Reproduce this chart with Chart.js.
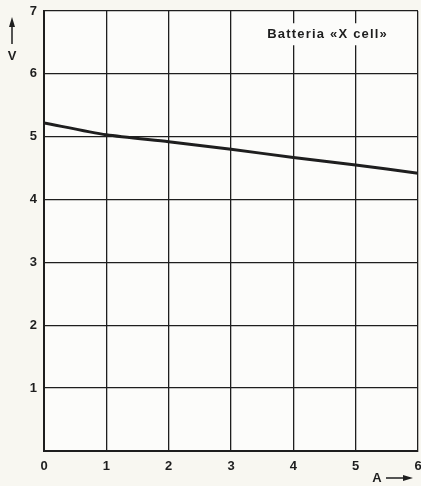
<!DOCTYPE html>
<html>
<head>
<meta charset="utf-8">
<script src="https://cdn.jsdelivr.net/npm/chart.js@4/dist/chart.umd.min.js"></script>
<style>
  html, body { margin: 0; padding: 0; background: #f8f7f1; }
  #wrap { width: 421px; height: 486px; }
</style>
</head>
<body>
<div id="wrap"><canvas id="chart"></canvas></div>
<script>
// current in A, voltage in V
const currentA = [0, 1, 2, 3, 4, 5, 6];
const voltageV = [5.22, 5.03, 4.92, 4.8, 4.67, 4.55, 4.42];
const xTicks = [0, 1, 2, 3, 4, 5, 6];
const yTicks = [1, 2, 3, 4, 5, 6, 7];
const legendText = 'Batteria «X cell»';

const ink = '#1e1e1e';
const paper = '#fcfcfa';

const extras = {
    id: 'extras',
    beforeDraw(chart) {
        const a = chart.chartArea;
        chart.ctx.save();
        chart.ctx.fillStyle = paper;
        chart.ctx.fillRect(a.left, a.top, a.right - a.left, a.bottom - a.top);
        chart.ctx.restore();
    },
    afterDraw(chart) {
        const ctx = chart.ctx;
        const x = chart.scales.x, y = chart.scales.y;
        ctx.save();
        // label, blanking the grid behind it
        const cx = x.getPixelForValue(4.55), cy = y.getPixelForValue(6.63);
        ctx.font = 'bold 13px "Liberation Sans", Arial, sans-serif';
        ctx.letterSpacing = '1.2px';
        const w = ctx.measureText(legendText).width;
        ctx.fillStyle = paper;
        ctx.fillRect(cx - w / 2 - 3, cy - 11, w + 6, 22);
        ctx.fillStyle = ink;
        ctx.textAlign = 'center';
        ctx.textBaseline = 'middle';
        ctx.fillText(legendText, cx, cy);
        ctx.letterSpacing = '0px';

        // axis names with arrows
        ctx.strokeStyle = ink;
        ctx.fillStyle = ink;
        ctx.lineWidth = 1.5;
        ctx.beginPath();
        ctx.moveTo(12, 44); ctx.lineTo(12, 24);
        ctx.stroke();
        ctx.beginPath();
        ctx.moveTo(12, 17); ctx.lineTo(9, 27); ctx.lineTo(15, 27); ctx.closePath();
        ctx.fill();
        ctx.font = 'bold 13px "Liberation Sans", Arial, sans-serif';
        ctx.fillText('V', 12, 56);

        ctx.fillText('A', 377, 478);
        ctx.beginPath();
        ctx.moveTo(386, 478); ctx.lineTo(404, 478);
        ctx.stroke();
        ctx.beginPath();
        ctx.moveTo(413, 478); ctx.lineTo(403, 475); ctx.lineTo(403, 481); ctx.closePath();
        ctx.fill();
        ctx.restore();
    }
};

new Chart(document.getElementById('chart'), {
    type: 'line',
    data: {
        datasets: [{
            data: currentA.map((a, i) => ({ x: a, y: voltageV[i] })),
            borderColor: ink,
            borderWidth: 3,
            pointRadius: 0,
            tension: 0.25,
            fill: false
        }]
    },
    options: {
        responsive: true,
        maintainAspectRatio: false,
        animation: false,
        layout: { padding: { left: 0, right: 3, top: 11, bottom: 0 } },
        plugins: { legend: { display: false }, tooltip: { enabled: false } },
        scales: {
            x: {
                type: 'linear',
                min: 0, max: 6,
                afterBuildTicks: s => { s.ticks = xTicks.map(v => ({ value: v })); },
                afterFit: s => { s.height = 35; s.paddingLeft = 0; s.paddingRight = 0; },
                grid: { color: ink, lineWidth: 1.3, drawTicks: false },
                border: { color: ink, width: 2 },
                ticks: {
                    color: ink, padding: 8,
                    font: { family: '"Liberation Sans", Arial, sans-serif', size: 13, weight: 'bold' }
                }
            },
            y: {
                min: 0, max: 7,
                afterBuildTicks: s => { s.ticks = [0].concat(yTicks).map(v => ({ value: v })); },
                afterFit: s => { s.width = 44; s.paddingTop = 0; s.paddingBottom = 0; },
                grid: { color: ink, lineWidth: 1.3, drawTicks: false },
                border: { color: ink, width: 2 },
                ticks: {
                    color: ink, padding: 7,
                    callback: v => v === 0 ? '' : v,
                    font: { family: '"Liberation Sans", Arial, sans-serif', size: 13, weight: 'bold' }
                }
            }
        }
    },
    plugins: [extras]
});
</script>
</body>
</html>
